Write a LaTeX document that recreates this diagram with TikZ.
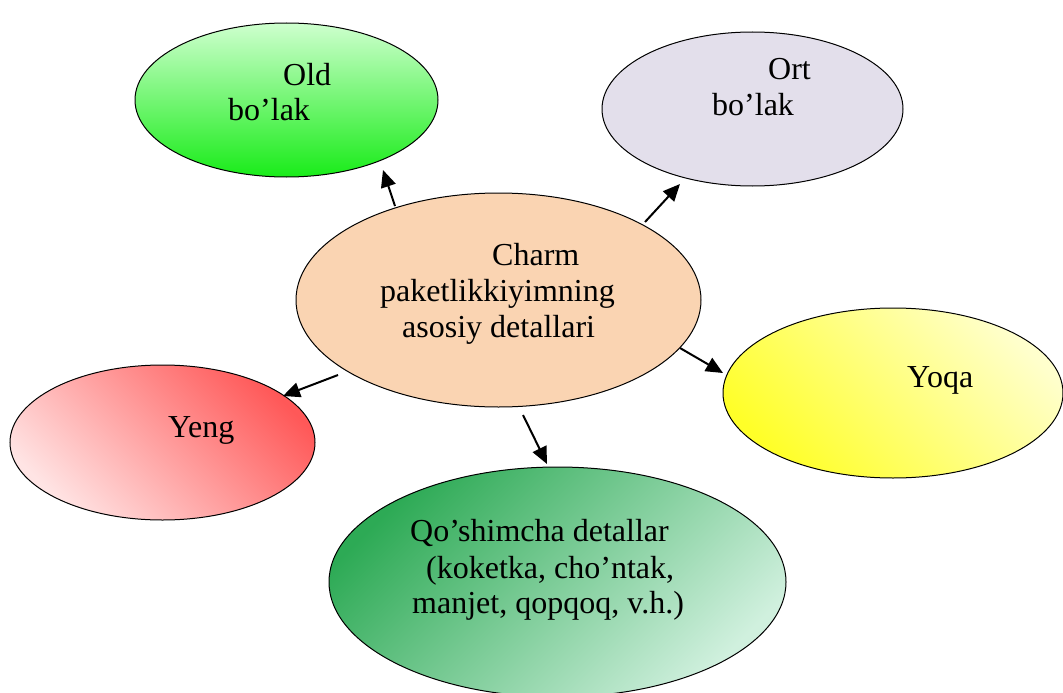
\documentclass[tikz,border=0pt]{standalone}
\usepackage{fontspec}
\setmainfont{Liberation Serif}
\usetikzlibrary{shapes.geometric,arrows.meta}
\definecolor{oldtop}{RGB}{206,255,206}
\definecolor{oldbot}{RGB}{25,236,25}
\definecolor{ortfill}{RGB}{227,223,235}
\definecolor{charmfill}{RGB}{250,212,178}
\definecolor{yoqadark}{RGB}{255,255,40}
\definecolor{yoqalight}{RGB}{255,255,205}
\definecolor{yengdark}{RGB}{255,88,88}
\definecolor{yenglight}{RGB}{255,228,228}
\definecolor{qodark}{RGB}{45,170,85}
\definecolor{qolight}{RGB}{208,240,222}
\tikzset{
  oval/.style={ellipse, draw=black, line width=1pt, inner sep=0pt},
  lbl/.style={anchor=base west, inner sep=0pt, font=\fontsize{32}{37}\selectfont},
  conn/.style={line width=2pt, -{Triangle[length=17pt,width=15pt]}}
}
\begin{document}
\begin{tikzpicture}[x=1pt,y=-1pt]
\path[use as bounding box] (0,0) rectangle (1063,693);
\clip (0,0) rectangle (1063,693);
% ellipses
\node[oval, minimum width=303pt, minimum height=154pt, top color=oldtop, bottom color=oldbot] (old) at (286.5,100) {};
\node[oval, minimum width=301pt, minimum height=154pt, fill=ortfill] (ort) at (752.5,109) {};
\node[oval, minimum width=405pt, minimum height=214pt, fill=charmfill] (charm) at (498.5,300) {};
\node[oval, minimum width=340pt, minimum height=170pt, top color=yoqalight, bottom color=yoqadark, shading angle=-45] (yoqa) at (893,393) {};
\node[oval, minimum width=305pt, minimum height=155pt, top color=yengdark, bottom color=yenglight, shading angle=-45] (yeng) at (162.5,442.5) {};
\node[oval, minimum width=457pt, minimum height=230pt, top color=qodark, bottom color=qolight, shading angle=45] (qo) at (557.5,582) {};
% texts
\node[lbl] (t1) at (283,85) {Old};
\node[lbl] (t2) at (228,120) {bo’lak};
\node[lbl] (t3) at (768,80) {Ort};
\node[lbl] (t4) at (712,115) {bo’lak};
\node[lbl] (t5) at (492,265) {Charm};
\node[lbl] (t6) at (380,301) {paketlikkiyimning};
\node[lbl] (t7) at (402,337) {asosiy detallari};
\node[lbl] (t8) at (907,387) {Yoqa};
\node[lbl] (t9) at (168,437) {Yeng};
\node[lbl] (t10) at (410,541) {Qo’shimcha detallar};
\node[lbl] (t11) at (426,578) {(koketka, cho’ntak,};
\node[lbl] (t12) at (412,613) {manjet, qopqoq, v.h.)};
% connector ends
\coordinate (a1) at (395,206);
\coordinate (b1) at (383,170);
\coordinate (a2) at (645,222);
\coordinate (b2) at (680,184);
\coordinate (a3) at (680,348);
\coordinate (b3) at (723,373);
\coordinate (a4) at (338,375);
\coordinate (b4) at (283,396);
\coordinate (a5) at (523,415);
\coordinate (b5) at (547,464);
\draw[conn] (a1) -- (b1);
\draw[conn] (a2) -- (b2);
\draw[conn] (a3) -- (b3);
\draw[conn] (a4) -- (b4);
\draw[conn] (a5) -- (b5);
\end{tikzpicture}
\end{document}
